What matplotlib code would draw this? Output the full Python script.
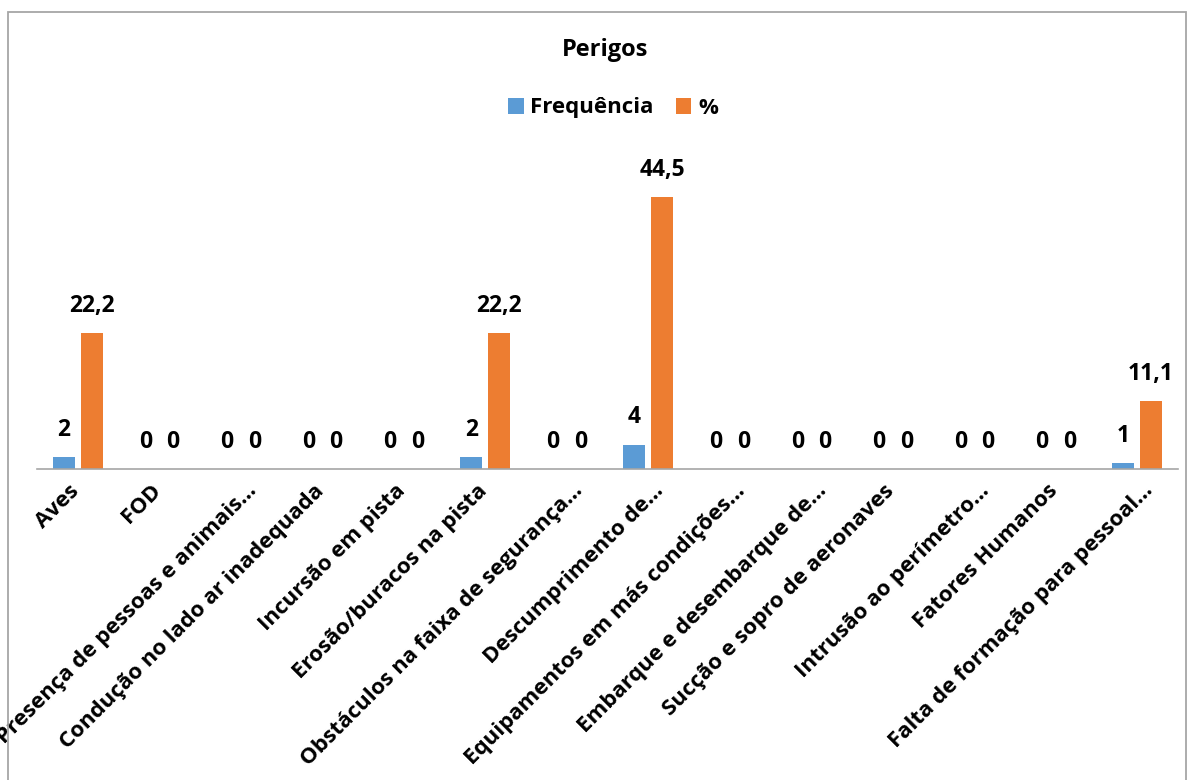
import matplotlib
matplotlib.use("Agg")
import matplotlib.pyplot as plt
from matplotlib.patches import Rectangle
from matplotlib.transforms import ScaledTranslation

categories = [
    "Aves", "FOD", "Presença de pessoas e animais…", "Condução no lado ar inadequada",
    "Incursão em pista", "Erosão/buracos na pista", "Obstáculos na faixa de segurança…",
    "Descumprimento de…", "Equipamentos em más condições…", "Embarque e desembarque de…",
    "Sucção e sopro de aeronaves", "Intrusão ao perímetro…", "Fatores Humanos",
    "Falta de formação para pessoal…",
]
frequencia = [2, 0, 0, 0, 0, 2, 0, 4, 0, 0, 0, 0, 0, 1]
percent = [22.2, 0, 0, 0, 0, 22.2, 0, 44.5, 0, 0, 0, 0, 0, 11.1]

plt.rcParams['font.family'] = ['Open Sans', 'DejaVu Sans']
plt.rcParams['font.weight'] = 'bold'

BLUE = '#5B9BD5'
ORANGE = '#ED7D31'

fig = plt.figure(figsize=(11.92, 7.80), dpi=100)
ax = fig.add_axes([37/1192, 1 - 469/780, 1141/1192, 306/780])

x = list(range(len(categories)))
w = 0.27
off = 0.169
b1 = ax.bar([i - off for i in x], frequencia, width=w, color=BLUE, label='Frequência')
b2 = ax.bar([i + off for i in x], percent, width=w, color=ORANGE, label='%')

def fmt(v):
    if float(v).is_integer():
        return str(int(v))
    return f"{v:.1f}".replace('.', ',')

for bars, vals in ((b1, frequencia), (b2, percent)):
    for rect, v in zip(bars, vals):
        ax.annotate(fmt(v), (rect.get_x() + rect.get_width()/2, v),
                    xytext=(0, 19.5), textcoords='offset points',
                    ha='center', va='center', fontsize=16.5, fontweight='bold')

ax.set_xlim(-0.5, len(categories) - 0.5)
ax.set_ylim(0, 50)
ax.set_yticks([])
for s in ('top', 'right', 'left'):
    ax.spines[s].set_visible(False)
ax.spines['bottom'].set_color('#A6A6A6')
ax.spines['bottom'].set_linewidth(1.2)
ax.set_xticks(x)
ax.set_xticklabels(categories, rotation=45, ha='right', rotation_mode='anchor',
                   fontsize=16, fontweight='bold')
ax.tick_params(axis='x', length=0, pad=6)
for lab in ax.get_xticklabels():
    dx = 5 if lab.get_text().endswith('…') else -9
    shift = ScaledTranslation(dx/100, -3/100, fig.dpi_scale_trans)
    lab.set_transform(lab.get_transform() + shift)

fig.text(605/1192, 1 - 50/780, 'Perigos', ha='center', va='center', fontsize=17, fontweight='bold')
fig.legend(handles=[b1, b2], labels=['Frequência', '%'], loc='center',
           bbox_to_anchor=(613/1192, 1 - 108/780), ncol=2, frameon=False,
           prop={'size': 16, 'weight': 'bold'}, handlelength=0.7, handleheight=0.7,
           handletextpad=0.3, columnspacing=1.0)

fig.patches.append(Rectangle((8/1192, -0.1), (1186-8)/1192, 1.1 - 12/780,
                             transform=fig.transFigure, fill=False,
                             edgecolor='#A6A6A6', linewidth=1.3))

fig.savefig('out.png', dpi=100, facecolor='white')
